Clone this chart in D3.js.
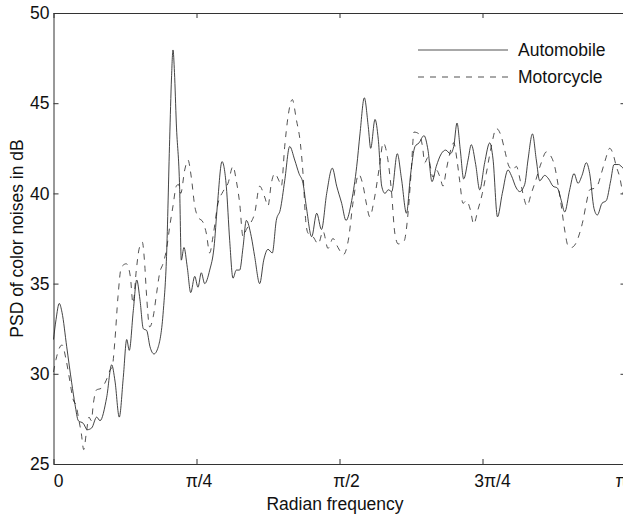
<!DOCTYPE html>
<html>
<head>
<meta charset="utf-8">
<script src="https://cdn.jsdelivr.net/npm/d3@7"></script>
<style>
  body { margin: 0; background: #fff; }
  svg { display: block; font-family: "Liberation Sans", Arial, sans-serif; }
</style>
</head>
<body>
<svg id="chart" width="623" height="514"></svg>
<script>
// Frequencies are in units of π (0 … 1 → 0 … π radians)
const autoFreq = [0,0.0044,0.0101,0.0149,0.0231,0.0318,0.0376,0.0434,0.0521,0.0591,0.0668,0.0755,0.0813,0.0930,0.1017,0.1075,0.1150,0.1220,0.1280,0.1325,0.1395,0.1455,0.1512,0.1570,0.1629,0.1687,0.1757,0.1832,0.1920,0.1976,0.2031,0.2063,0.2089,0.2115,0.2147,0.2206,0.2234,0.2281,0.2339,0.2399,0.2469,0.2526,0.2584,0.2643,0.2731,0.2806,0.2864,0.2946,0.3021,0.3080,0.3138,0.3196,0.3255,0.3313,0.3371,0.3458,0.3517,0.3605,0.3675,0.3750,0.3825,0.3895,0.3965,0.4042,0.4129,0.4217,0.4292,0.4362,0.4420,0.4514,0.4601,0.4685,0.4776,0.4874,0.4951,0.5038,0.5114,0.5213,0.5301,0.5358,0.5434,0.5503,0.5545,0.5621,0.5678,0.5738,0.5795,0.5853,0.5913,0.6010,0.6084,0.6171,0.6241,0.6320,0.6390,0.6477,0.6547,0.6617,0.6692,0.6780,0.6857,0.6937,0.6997,0.7054,0.7112,0.7171,0.7247,0.7304,0.7381,0.7451,0.7538,0.7626,0.7684,0.7762,0.7846,0.7946,0.8003,0.8091,0.8150,0.8238,0.8295,0.8374,0.8441,0.8500,0.8587,0.8657,0.8733,0.8808,0.8878,0.8937,0.9024,0.9100,0.9170,0.9240,0.9315,0.9374,0.9449,0.9507,0.9589,0.9664,0.9741,0.9799,0.9881,0.9956,1.0];
const autoPSD = [31.9,33.0,33.9,33.4,31.5,29.5,28.3,27.4,27.25,26.9,27.0,27.6,27.4,28.7,30.5,29.6,27.6,29.8,31.9,31.3,33.5,35.2,34.1,32.5,32.4,31.5,31.1,31.5,33.5,36.5,43.0,46.4,47.95,46.7,43.9,40.2,36.3,37.0,35.9,34.5,35.4,34.8,35.6,35.0,35.75,37.0,39.3,41.76,40.4,37.4,35.3,35.75,35.75,37.0,38.5,37.6,36.5,35.0,36.3,36.9,36.7,38.5,39.1,40.7,42.6,41.85,41.1,40.56,39.26,37.6,38.9,38.0,40.0,41.4,40.4,39.45,38.5,39.6,41.5,43.3,45.3,43.7,42.5,44.1,43.0,40.4,40.0,40.2,40.1,42.2,40.8,38.9,41.0,42.6,42.8,43.2,42.4,40.65,41.5,42.2,42.4,42.2,42.6,43.9,42.4,40.8,41.85,42.7,41.6,40.2,41.7,42.8,41.9,38.7,40.0,41.3,41.0,40.3,40.1,40.5,41.85,43.3,41.85,40.7,41.0,40.8,40.4,40.3,39.6,38.97,40.2,41.1,40.56,41.0,41.7,41.1,39.17,38.8,39.45,39.6,40.7,41.6,41.6,41.4,41.3];

const motoFreq = [0,0.0044,0.0087,0.0149,0.0219,0.0283,0.0341,0.0399,0.0446,0.0486,0.0528,0.0573,0.0621,0.0661,0.0699,0.0748,0.0836,0.0923,0.0988,0.1028,0.1070,0.1128,0.1185,0.1273,0.1343,0.1390,0.1448,0.1495,0.1552,0.1594,0.1622,0.1682,0.1745,0.1804,0.1857,0.1914,0.1976,0.2031,0.2089,0.2147,0.2185,0.2224,0.2294,0.2351,0.2409,0.2469,0.2526,0.2614,0.2671,0.2731,0.2788,0.2876,0.2963,0.3051,0.3138,0.3196,0.3255,0.3313,0.3371,0.3435,0.3517,0.3605,0.3692,0.3750,0.3808,0.3867,0.3942,0.3983,0.4042,0.4100,0.4175,0.4245,0.4315,0.4362,0.4409,0.4449,0.4537,0.4629,0.4712,0.4799,0.4886,0.4974,0.5066,0.5154,0.5241,0.5337,0.5414,0.5472,0.5530,0.5603,0.5699,0.5764,0.5839,0.5909,0.5967,0.6026,0.6128,0.6201,0.6255,0.6302,0.6390,0.6451,0.6490,0.6547,0.6635,0.6692,0.6757,0.6810,0.6867,0.6927,0.6997,0.7054,0.7101,0.7159,0.7217,0.7287,0.7346,0.7421,0.7497,0.7566,0.7654,0.7741,0.7829,0.7888,0.7963,0.8033,0.8091,0.8161,0.8220,0.8278,0.8353,0.8418,0.8528,0.8615,0.8689,0.8762,0.8820,0.8878,0.8937,0.8995,0.9052,0.9126,0.9199,0.9257,0.9315,0.9374,0.9462,0.9519,0.9577,0.9647,0.9724,0.9781,0.9839,0.9899,0.9956,1.0];
const motoPSD = [30.1,30.8,31.3,31.6,30.8,29.65,28.6,28.2,27.4,26.7,25.8,26.7,27.6,27.4,28.4,29.1,29.2,29.65,30.2,30.4,31.7,34.3,35.9,36.1,35.4,33.9,35.75,36.9,37.3,36.1,34.6,32.6,33.2,34.5,35.6,36.1,36.9,38.15,39.3,40.4,40.5,40.0,41.3,41.85,40.9,39.3,38.7,38.4,37.8,36.7,37.6,39.45,40.1,40.56,41.5,40.7,39.45,37.6,38.0,38.3,38.9,40.4,39.8,39.3,40.56,41.1,40.7,40.4,42.6,44.25,45.2,44.1,42.8,41.1,38.5,37.8,37.6,37.2,37.9,36.95,37.5,37.0,36.6,37.4,39.6,41.05,40.4,39.4,38.7,39.6,41.5,42.8,42.0,40.1,37.8,37.2,37.35,39.0,41.3,43.4,43.3,42.6,41.7,42.0,40.9,41.3,40.9,40.4,41.3,42.2,42.8,41.85,40.7,39.45,39.6,39.1,38.3,39.1,40.0,41.1,42.6,43.6,43.15,42.4,41.5,41.3,41.5,40.7,39.8,39.3,40.0,40.6,41.7,42.3,42.1,41.5,40.5,39.3,37.97,37.1,37.0,37.2,37.8,38.5,39.45,40.2,40.3,40.5,41.1,41.85,42.5,42.2,41.5,40.9,40.0,39.7];

const seriesNames = ["Automobile", "Motorcycle"];
const xTickValues = [0, 0.25, 0.5, 0.75, 1];
const xTickLabels = ["0", "π/4", "π/2", "3π/4", "π"];
const yTickValues = [25, 30, 35, 40, 45, 50];
const xTitle = "Radian frequency";
const yTitle = "PSD of color noises in dB";

const svg = d3.select("#chart");
const L = 53.5, R = 625.5, T = 13, B = 464;
const fs = "17.5px";
const xLabelShift = [4.5, 2, 6.5, 9.5, -4.5];   // label placement, as in the original

const x = d3.scaleLinear().domain([0, 1]).range([L, R]);
const y = d3.scaleLinear().domain([25, 50]).range([B, T]);

const axisColor = "#333";

const gB = svg.append("g").attr("transform", `translate(0,${B})`)
  .call(d3.axisBottom(x).tickValues(xTickValues)
    .tickFormat((d, i) => xTickLabels[i]).tickSizeInner(-5).tickSizeOuter(0).tickPadding(11));
const gT = svg.append("g").attr("transform", `translate(0,${T})`)
  .call(d3.axisTop(x).tickValues(xTickValues).tickFormat("").tickSizeInner(-5).tickSizeOuter(0));
const gL = svg.append("g").attr("transform", `translate(${L},0)`)
  .call(d3.axisLeft(y).tickValues(yTickValues).tickFormat(d3.format("d"))
    .tickSizeInner(-5).tickSizeOuter(0).tickPadding(4));
const gR = svg.append("g").attr("transform", `translate(${R},0)`)
  .call(d3.axisRight(y).tickValues(yTickValues).tickFormat("").tickSizeInner(-5).tickSizeOuter(0));

[gB, gT, gL, gR].forEach(g => {
  g.select(".domain").attr("stroke", axisColor).attr("stroke-width", 1);
  g.selectAll(".tick line").attr("stroke", axisColor).attr("stroke-width", 1);
  g.selectAll(".tick text").attr("fill", "#111").style("font-size", fs)
    .style("font-family", "'Liberation Sans', Arial, sans-serif");
});
gB.selectAll(".tick text").attr("dx", (d, i) => xLabelShift[i]);

const line = d3.line().x(d => x(d[0])).y(d => y(d[1])).curve(d3.curveMonotoneX);
const autoData = autoFreq.map((f, i) => [f, autoPSD[i]]);
const motoData = motoFreq.map((f, i) => [f, motoPSD[i]]);

const plot = svg.append("g");
plot.append("path").datum(motoData).attr("d", line)
  .attr("fill", "none").attr("stroke", "#333").attr("stroke-width", 0.85)
  .attr("stroke-dasharray", "6,6");
plot.append("path").datum(autoData).attr("d", line)
  .attr("fill", "none").attr("stroke", "#222").attr("stroke-width", 0.85);

const leg = svg.append("g");
const legRows = [{ name: seriesNames[0], dash: null, y: 50 }, { name: seriesNames[1], dash: "6,6", y: 77 }];
legRows.forEach(r => {
  leg.append("line").attr("x1", 418).attr("x2", 508).attr("y1", r.y).attr("y2", r.y)
    .attr("stroke", "#333").attr("stroke-width", 0.85)
    .attr("stroke-dasharray", r.dash);
  leg.append("text").attr("x", 518).attr("y", r.y).attr("dy", "0.35em")
    .style("font-size", fs).attr("fill", "#111").text(r.name);
});

svg.append("text").attr("x", 335).attr("y", 510).attr("text-anchor", "middle")
  .style("font-size", fs).attr("fill", "#111").text(xTitle);
svg.append("text").attr("transform", `translate(23,${(T + B) / 2}) rotate(-90)`)
  .attr("text-anchor", "middle").style("font-size", fs).attr("fill", "#111").text(yTitle);
</script>
</body>
</html>
